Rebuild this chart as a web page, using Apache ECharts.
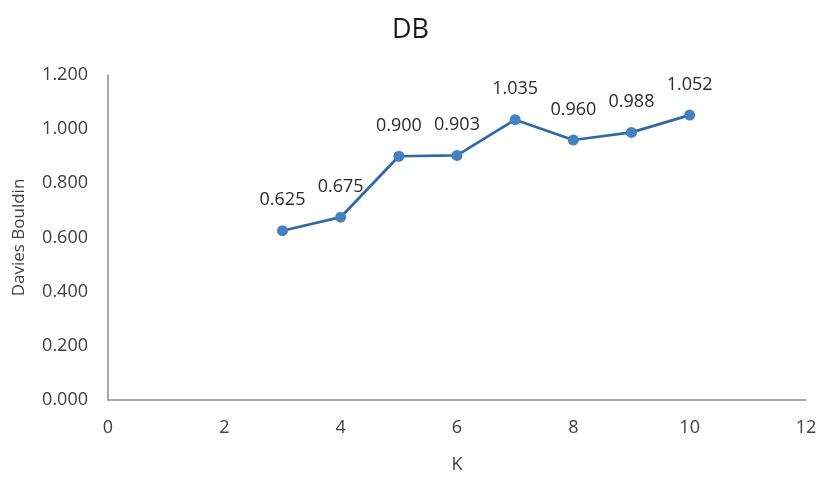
<!DOCTYPE html>
<html><head><meta charset="utf-8">
<script src="https://cdn.jsdelivr.net/npm/echarts@6/dist/echarts.min.js"></script>
<style>html,body{margin:0;padding:0;background:#fff}#c{width:821px;height:477px}</style>
</head><body><div id="c"></div>
<script>
const kValues = [3, 4, 5, 6, 7, 8, 9, 10];
const dbValues = [0.625, 0.675, 0.900, 0.903, 1.035, 0.960, 0.988, 1.052];
const titleText = 'DB';
const xName = 'K';
const yName = 'Davies Bouldin';

const chart = echarts.init(document.getElementById('c'));
const font = 'Open Sans';
chart.setOption({
  animation: false,
  title: { text: titleText, left: 'center', top: 12, textStyle: { fontFamily: font, fontSize: 27, fontWeight: 'normal', color: '#1a1a1a' } },
  grid: { left: 108, right: 15, top: 75, bottom: 77, containLabel: false, outerBoundsMode: 'none' },
  xAxis: {
    type: 'value', min: 0, max: 12, interval: 2,
    name: xName, nameLocation: 'middle', nameGap: 56,
    nameTextStyle: { fontFamily: font, fontSize: 18, color: '#404040' },
    axisLine: { show: true, lineStyle: { color: '#8c8c8c', width: 1.5 } },
    axisTick: { show: false },
    splitLine: { show: false },
    axisLabel: { fontFamily: font, fontSize: 18, color: '#404040', margin: 19 }
  },
  yAxis: {
    type: 'value', min: 0, max: 1.2, interval: 0.2,
    name: yName, nameLocation: 'middle', nameGap: 80,
    nameTextStyle: { fontFamily: font, fontSize: 17, color: '#404040' },
    axisLine: { show: true, lineStyle: { color: '#8c8c8c', width: 1.5 } },
    axisTick: { show: false },
    splitLine: { show: false },
    axisLabel: { fontFamily: font, fontSize: 18, color: '#404040', margin: 20, formatter: v => v.toFixed(3) }
  },
  series: [{
    type: 'line',
    data: kValues.map((k, i) => [k, dbValues[i]]),
    symbol: 'circle', symbolSize: 11,
    lineStyle: { color: '#2e6aa8', width: 2.75 },
    itemStyle: { color: '#4480c2' },
    label: { show: true, position: 'top', distance: 16, fontFamily: font, fontSize: 18, color: '#2a2a2a',
      formatter: p => p.value[1].toFixed(3) }
  }]
});
</script></body></html>
